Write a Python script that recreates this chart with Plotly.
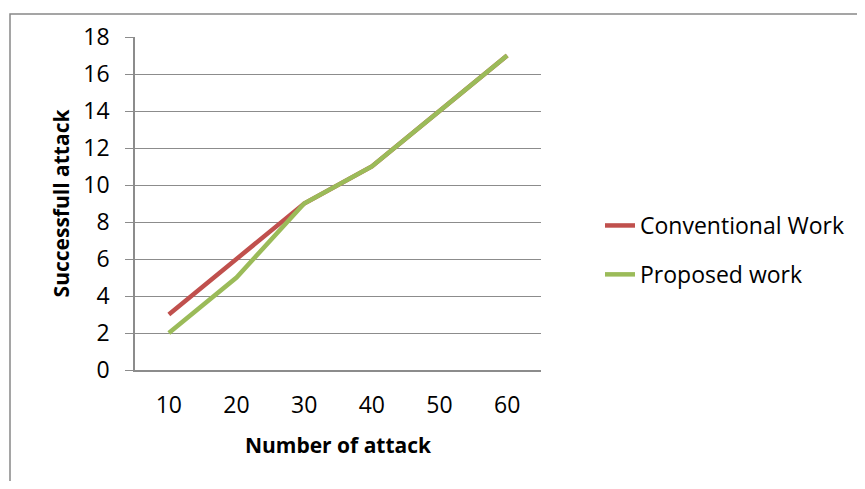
import plotly.graph_objects as go

categories = ["10", "20", "30", "40", "50", "60"]
conventional = [3, 6, 9, 11, 14, 17]
proposed = [2, 5, 9, 11, 14, 17]
y_ticks = list(range(0, 19, 2))

FONT = "Open Sans"
GRID = "#8c8c8c"
OFF = 8  # page body offset

fig = go.Figure()
fig.add_trace(go.Scatter(x=categories, y=conventional, mode="lines", name="Conventional Work",
                         legendgroup="a", line=dict(color="#C0504D", width=4.5)))
fig.add_trace(go.Scatter(x=categories, y=proposed, mode="lines", name="Proposed work",
                         legendgroup="b", line=dict(color="#9BBB59", width=4.5)))

W, H = 865 - 2 * OFF, 489 - 2 * OFF
L, R, T, B = 135 - OFF, 541 - OFF, 37 - OFF, 370 - OFF
pw, ph = R - L, B - T

bx0 = (10 - OFF - L) / pw
bx1 = (W + 30 - L) / pw
by0 = (B - (H + 30)) / ph
by1 = (B - 6) / ph

fig.update_layout(
    width=W, height=H,
    margin=dict(l=L, r=W - R, t=T, b=H - B),
    paper_bgcolor="white", plot_bgcolor="white",
    font=dict(family=FONT, size=23, color="#000000"),
    showlegend=True,
    legend=dict(xref="container", yref="container", x=(600 - OFF) / W, y=1 - (204 - OFF) / H,
                xanchor="left", yanchor="top", tracegroupgap=16,
                font=dict(size=23), bgcolor="rgba(0,0,0,0)"),
    xaxis=dict(type="category", categoryorder="array", categoryarray=categories,
               range=[-0.5, 5.5], showgrid=False, showline=True, linecolor=GRID,
               linewidth=1.5, ticks="", ticklabelstandoff=14, zeroline=False,
               title=dict(text="<b>Number of attack</b>", standoff=19,
                          font=dict(size=21))),
    yaxis=dict(range=[0, 18], tickvals=y_ticks, showgrid=True, gridcolor=GRID,
               gridwidth=1.2, showline=True, linecolor=GRID, linewidth=1.5,
               ticks="outside", ticklen=8, tickcolor=GRID, ticklabelstandoff=11,
               zeroline=False,
               title=dict(text="<b>Successfull attack</b>", standoff=8,
                          font=dict(size=21))),
    shapes=[
        dict(type="rect", xref="paper", yref="paper", x0=bx0, x1=bx1, y0=by0, y1=by1,
             line=dict(color="#888888", width=1.5), layer="below"),
    ],
)

fig.write_html("out.html")
